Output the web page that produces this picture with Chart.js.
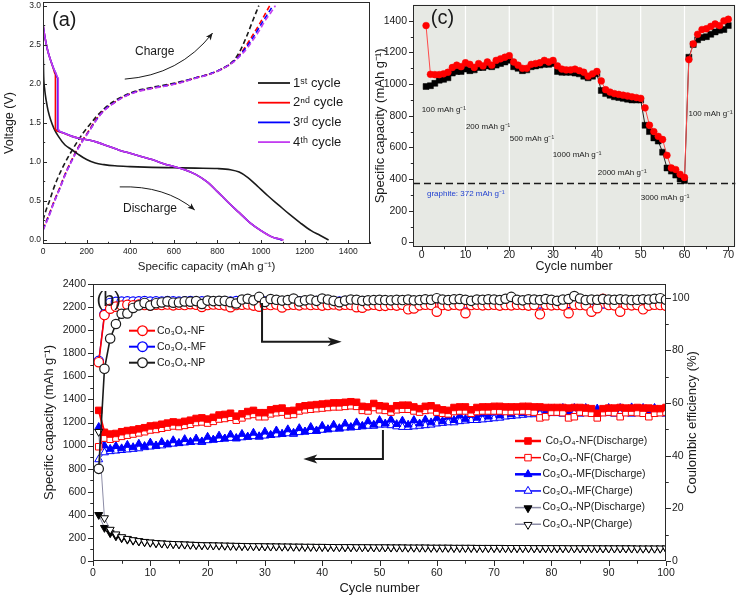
<!DOCTYPE html>
<html><head><meta charset="utf-8">
<script src="https://cdn.jsdelivr.net/npm/chart.js@4.4.1/dist/chart.umd.min.js"></script>
<style>
html,body{margin:0;padding:0;background:#fff;}
#wrap{position:relative;width:740px;height:597px;overflow:hidden;background:#fff;}
canvas{position:absolute;}
</style></head><body>
<div id="wrap">
<canvas id="ca" width="375" height="275" style="left:0;top:0;width:375px;height:275px"></canvas>
<canvas id="cc" width="370" height="275" style="left:370px;top:0;width:370px;height:275px"></canvas>
<canvas id="cb" width="740" height="322" style="left:0;top:275px;width:740px;height:322px"></canvas>
</div>
<script>
// ================= DATA: panel (a) voltage profiles =================
const a1DisX = [0, 3, 8, 15, 23, 35, 50, 70, 100, 130, 160, 200, 240, 280, 330, 400, 500, 600, 700, 800, 860, 900, 940, 980, 1030, 1080, 1130, 1180, 1230, 1270, 1310];
const a1DisV = [2.5, 2.1, 1.92, 1.78, 1.66, 1.54, 1.43, 1.33, 1.22, 1.16, 1.10, 1.03, 0.985, 0.965, 0.95, 0.94, 0.93, 0.925, 0.92, 0.915, 0.90, 0.87, 0.80, 0.70, 0.57, 0.45, 0.33, 0.22, 0.12, 0.06, 0.0];
const a2DisX = [0, 4, 12, 22, 35, 48, 57, 57, 62, 75, 92, 130, 170, 210, 250, 300, 350, 400, 450, 500, 550, 600, 650, 700, 750, 800, 850, 900, 950, 1000, 1050, 1080, 1100];
const a2DisV = [2.77, 2.68, 2.55, 2.42, 2.30, 2.19, 2.12, 1.42, 1.40, 1.385, 1.37, 1.33, 1.30, 1.28, 1.25, 1.20, 1.15, 1.11, 1.07, 1.03, 0.98, 0.94, 0.90, 0.84, 0.75, 0.62, 0.48, 0.35, 0.22, 0.12, 0.04, 0.015, 0.0];
const a3DisX = [0, 4, 12, 22, 35, 48, 60, 67, 67, 72, 80, 95, 130, 170, 210, 250, 300, 350, 400, 450, 500, 550, 600, 650, 700, 750, 800, 850, 900, 950, 1000, 1050, 1078, 1097];
const a3DisV = [2.77, 2.68, 2.55, 2.42, 2.30, 2.20, 2.12, 2.07, 1.42, 1.40, 1.385, 1.37, 1.33, 1.30, 1.28, 1.25, 1.20, 1.15, 1.11, 1.07, 1.03, 0.98, 0.94, 0.90, 0.84, 0.75, 0.62, 0.48, 0.35, 0.22, 0.12, 0.04, 0.015, 0.0];
const a4DisX = [0, 4, 12, 22, 35, 48, 60, 70, 70, 74, 82, 95, 130, 170, 210, 250, 300, 350, 400, 450, 500, 550, 600, 650, 700, 750, 800, 850, 900, 950, 1000, 1050, 1082, 1104];
const a4DisV = [2.77, 2.68, 2.55, 2.42, 2.30, 2.20, 2.13, 2.07, 1.42, 1.40, 1.385, 1.37, 1.33, 1.30, 1.28, 1.25, 1.20, 1.15, 1.11, 1.07, 1.03, 0.98, 0.94, 0.90, 0.84, 0.75, 0.62, 0.48, 0.35, 0.22, 0.12, 0.04, 0.015, 0.0];
const a1ChgX = [0, 15, 31, 45, 61, 80, 92, 115, 138, 160, 184, 215, 245, 280, 322, 360, 399, 440, 475, 520, 552, 620, 706, 760, 820, 872, 902, 933, 964, 990];
const a1ChgV = [0.256, 0.39, 0.51, 0.63, 0.75, 0.87, 0.94, 1.06, 1.17, 1.27, 1.37, 1.48, 1.58, 1.68, 1.77, 1.83, 1.88, 1.92, 1.94, 1.965, 1.98, 2.02, 2.08, 2.12, 2.19, 2.29, 2.41, 2.60, 2.82, 3.0];
const a2ChgX = [0, 15, 31, 45, 61, 80, 92, 115, 138, 160, 184, 215, 245, 280, 322, 360, 399, 440, 475, 520, 552, 620, 706, 760, 820, 872, 902, 948, 994, 1040];
const a2ChgV = [0.14, 0.24, 0.35, 0.455, 0.565, 0.69, 0.78, 0.93, 1.06, 1.18, 1.29, 1.42, 1.55, 1.66, 1.75, 1.82, 1.87, 1.91, 1.93, 1.955, 1.97, 2.01, 2.08, 2.12, 2.19, 2.28, 2.37, 2.56, 2.77, 3.0];
const a3ChgX = [0, 15, 31, 45, 61, 80, 92, 115, 138, 160, 184, 215, 245, 280, 322, 360, 399, 440, 475, 520, 552, 620, 706, 760, 820, 872, 902, 956, 1009, 1055];
const a3ChgV = [0.13, 0.23, 0.34, 0.445, 0.555, 0.68, 0.77, 0.92, 1.05, 1.17, 1.28, 1.41, 1.54, 1.66, 1.75, 1.82, 1.87, 1.91, 1.93, 1.955, 1.97, 2.01, 2.08, 2.12, 2.19, 2.28, 2.36, 2.56, 2.80, 3.0];
const a4ChgX = [0, 15, 31, 45, 61, 80, 92, 115, 138, 160, 184, 215, 245, 280, 322, 360, 399, 440, 475, 520, 552, 620, 706, 760, 820, 872, 902, 935, 963, 990, 1017, 1045, 1066];
const a4ChgV = [0.12, 0.22, 0.33, 0.44, 0.55, 0.675, 0.765, 0.915, 1.045, 1.165, 1.275, 1.405, 1.535, 1.655, 1.745, 1.815, 1.865, 1.905, 1.925, 1.95, 1.965, 2.005, 2.075, 2.115, 2.185, 2.275, 2.35, 2.45, 2.56, 2.67, 2.80, 2.91, 3.0];
const aLegend = ['1ˢᵗ cycle', '2ⁿᵈ cycle', '3ʳᵈ cycle', '4ᵗʰ cycle'];
const aXTicks = [0, 200, 400, 600, 800, 1000, 1200, 1400];
const aYTicks = [0, 0.5, 1, 1.5, 2, 2.5, 3];

// ================= DATA: panel (c) rate capability =================
const cCycles = [1,2,3,4,5,6,7,8,9,10,11,12,13,14,15,16,17,18,19,20,21,22,23,24,25,26,27,28,29,30,31,32,33,34,35,36,37,38,39,40,41,42,43,44,45,46,47,48,49,50,51,52,53,54,55,56,57,58,59,60,61,62,63,64,65,66,67,68,69,70];
const cRed = [1370,1062,1060,1060,1065,1075,1105,1120,1110,1135, 1125,1105,1130,1115,1140,1120,1150,1160,1170,1180, 1140,1120,1100,1100,1125,1130,1135,1150,1140,1150, 1115,1095,1090,1090,1095,1085,1075,1050,1065,1080, 1020,965,950,940,935,930,925,920,915,910, 850,740,700,670,650,550,470,460,430,410, 1155,1255,1315,1345,1350,1365,1380,1370,1400,1410];
const cBlack = [985,990,1005,1025,1030,1040,1070,1080,1080,1095, 1085,1090,1105,1105,1115,1110,1120,1130,1140,1150, 1110,1100,1085,1090,1110,1115,1120,1125,1125,1130, 1080,1075,1075,1075,1070,1065,1050,1040,1050,1065, 960,940,930,920,915,910,905,900,900,900, 740,700,660,640,570,470,450,425,400,390, 1170,1250,1280,1295,1300,1315,1330,1340,1345,1370];
const cGraphite = 372;
const cRateBreaks = [10, 20, 30, 40, 50, 60];
const cRateLabels = ['100 mAh g⁻¹', '200 mAh g⁻¹', '500 mAh g⁻¹', '1000 mAh g⁻¹', '2000 mAh g⁻¹', '3000 mAh g⁻¹', '100 mAh g⁻¹'];
const cXTicks = [0, 10, 20, 30, 40, 50, 60, 70];
const cYTicks = [0, 200, 400, 600, 800, 1000, 1200, 1400];

// ================= DATA: panel (b) cycling =================
const bCycles = [1,2,3,4,5,6,7,8,9,10,11,12,13,14,15,16,17,18,19,20,21,22,23,24,25,26,27,28,29,30,31,32,33,34,35,36,37,38,39,40,41,42,43,44,45,46,47,48,49,50,51,52,53,54,55,56,57,58,59,60,61,62,63,64,65,66,67,68,69,70,71,72,73,74,75,76,77,78,79,80,81,82,83,84,85,86,87,88,89,90,91,92,93,94,95,96,97,98,99,100];
const nfDis = [1305,1115,1100,1105,1120,1130,1135,1145,1155,1170, 1175,1185,1195,1205,1200,1210,1220,1235,1240,1230, 1245,1265,1270,1280,1255,1275,1295,1305,1285,1285, 1310,1320,1325,1300,1305,1335,1345,1350,1355,1360, 1365,1370,1370,1375,1380,1375,1340,1335,1365,1345, 1340,1320,1345,1350,1350,1335,1320,1340,1345,1325, 1310,1305,1330,1335,1335,1310,1330,1335,1335,1340, 1340,1335,1335,1335,1340,1340,1335,1335,1330,1330, 1330,1330,1325,1330,1330,1325,1320,1280,1320,1325, 1325,1330,1325,1325,1330,1325,1325,1320,1320,1330];
const nfChg = [990,1065,1055,1065,1080,1090,1100,1110,1120,1135, 1140,1150,1160,1170,1165,1175,1185,1200,1205,1195, 1210,1230,1235,1245,1220,1240,1260,1270,1250,1250, 1275,1285,1290,1265,1270,1300,1310,1315,1320,1325, 1330,1335,1335,1340,1345,1340,1305,1300,1330,1310, 1305,1290,1310,1315,1315,1300,1290,1305,1310,1290, 1280,1275,1295,1300,1300,1280,1295,1300,1300,1300, 1300,1295,1295,1300,1300,1295,1290,1240,1250,1290, 1290,1285,1240,1250,1290,1285,1280,1240,1285,1290, 1285,1250,1285,1290,1285,1280,1250,1280,1285,1290];
const mfDis = [1160,1000,970,995,975,1005,985,1015,995,1025, 1000,1030,1010,1045,1020,1055,1030,1060,1035,1075, 1050,1085,1060,1095,1065,1100,1075,1110,1080,1120, 1090,1130,1100,1140,1110,1150,1120,1160,1130,1170, 1140,1180,1150,1190,1160,1200,1170,1210,1180,1220, 1190,1225,1185,1215,1180,1220,1190,1225,1200,1240, 1210,1250,1220,1260,1230,1265,1240,1275,1250,1285, 1260,1295,1270,1305,1280,1315,1285,1320,1290,1320, 1290,1325,1290,1325,1295,1325,1290,1320,1290,1325, 1295,1325,1295,1330,1295,1325,1290,1325,1295,1320];
const mfChg = [880,940,950,955,960,965,970,975,985,990, 995,1000,1010,1015,1020,1025,1030,1035,1030,1045, 1050,1055,1060,1065,1060,1070,1075,1080,1075,1085, 1090,1095,1100,1105,1100,1115,1120,1125,1125,1135, 1140,1145,1145,1155,1155,1160,1165,1170,1170,1180, 1180,1175,1165,1160,1160,1165,1170,1175,1180,1190, 1195,1200,1200,1210,1215,1220,1220,1225,1230,1235, 1240,1250,1255,1260,1265,1270,1270,1275,1275,1280, 1280,1275,1280,1280,1275,1280,1280,1275,1280,1280, 1275,1280,1280,1275,1280,1280,1275,1280,1280,1275];
const npDis = [400,288,242,215,198,186,177,170,164,159, 155,152,149,147,145,143,141,139,137,136, 135,134,133,132,131,130,129,128,128,127, 126,126,125,125,124,124,123,123,122,122, 121,121,120,120,120,119,119,119,118,118, 118,117,117,117,116,116,116,116,115,115, 115,115,114,114,114,114,113,113,113,113, 113,112,112,112,112,112,111,111,111,111, 111,111,110,110,110,110,110,110,109,109, 109,109,109,109,108,108,108,108,108,108];
const npChg = [1120,372,272,232,208,193,182,174,167,162, 157,154,151,149,147,145,143,141,139,138, 137,136,135,134,133,132,131,130,130,129, 128,128,127,127,126,126,125,125,124,124, 123,123,122,122,122,121,121,121,120,120, 120,119,119,119,118,118,118,118,117,117, 117,117,116,116,116,116,115,115,115,115, 115,114,114,114,114,114,113,113,113,113, 113,113,112,112,112,112,112,112,111,111, 111,111,111,111,110,110,110,110,110,110];
const nfCE = [75.5,93.4,95.8,96.6,97.0,97.3,97.1,97.4,97.2,97.0, 97.3,97.2,97.4,97.1,97.3,97.2,97.5,97.3,96.5,97.2, 97.4,97.3,97.1,96.4,97.2,97.3,97.4,97.0,96.6,97.3, 97.2,97.4,96.3,97.2,97.3,97.1,97.4,97.2,97.3,97.0, 97.2,97.4,97.1,97.3,97.2,96.4,96.2,97.1,97.3,96.9, 96.9,97.2,97.0,97.3,95.6,95.9,97.1,97.3,97.2,94.7, 97.2,97.0,97.3,97.1,94.1,97.2,97.3,97.1,97.2,97.3, 97.0,97.2,97.1,97.3,97.2,97.0,97.2,93.7,97.3,97.1, 97.2,97.0,94.1,97.3,97.2,97.1,94.7,96.0,99.6,97.2, 97.1,94.7,97.3,97.1,97.2,95.6,97.0,97.3,97.2,96.9];
const mfCE = [76.0,93.7,98.0,98.4,98.5,98.6,98.5,98.6,98.7,98.5, 98.6,98.5,98.7,98.6,98.5,98.6,98.7,98.5,98.6,98.7, 98.5,98.6,98.6,98.5,98.7,98.6,98.5,98.6,98.7,98.5, 98.6,98.5,98.6,98.7,98.5,98.6,98.6,98.5,98.7,98.6, 98.5,98.6,98.5,98.7,98.6,98.5,98.6,98.4,98.3,98.2, 98.0,97.9,98.0,97.8,97.9,98.0,97.8,97.9,97.8,98.0, 97.9,97.8,98.0,97.9,97.8,97.9,98.0,97.8,97.9,97.8, 98.0,97.9,97.8,97.9,98.0,97.8,97.9,97.8,98.0,97.9, 97.8,97.9,98.0,97.8,97.9,97.8,98.0,97.9,97.8,97.9, 98.0,97.8,97.9,97.8,97.9,98.0,97.8,97.9,97.8,97.9];
const npCE = [35.0,73.0,84.5,90.0,93.9,94.0,96.1,97.1,98.0,97.0, 97.9,98.2,98.6,98.1,98.2,98.6,98.5,98.7,97.6,98.9, 98.7,98.8,98.8,98.3,97.8,99.3,99.6,99.0,100.3,98.4, 99.5,99.2,98.9,99.1,99.7,98.6,99.0,99.3,98.8,99.7, 99.3,98.8,98.3,98.9,99.3,99.2,98.8,99.0,99.1,99.2, 99.1,99.0,99.2,99.1,99.3,99.0,99.1,99.4,99.2,99.8, 99.3,99.1,99.4,99.5,99.2,98.8,99.3,99.2,99.4,99.3, 99.1,99.6,100.3,99.2,99.0,99.4,99.3,99.1,99.5,99.2, 98.8,99.3,99.5,100.6,99.7,99.1,99.3,99.2,99.5,99.3, 99.2,99.4,99.3,99.1,99.2,99.4,99.3,99.6,99.8,99.2];
const bCapLegend = [' Co₃O₄-NF(Discharge)', 'Co₃O₄-NF(Charge)', 'Co₃O₄-MF(Discharge)', 'Co₃O₄-MF(Charge)', 'Co₃O₄-NP(Discharge)', 'Co₃O₄-NP(Charge)'];
const bCELegend = ['Co₃O₄-NF', 'Co₃O₄-MF', 'Co₃O₄-NP'];
const bXTicks = [0, 10, 20, 30, 40, 50, 60, 70, 80, 90, 100];
const bYTicks = [0, 200, 400, 600, 800, 1000, 1200, 1400, 1600, 1800, 2000, 2200, 2400];
const bY1Ticks = [0, 20, 40, 60, 80, 100];

// ================= helpers =================
const FONT = '"Liberation Sans", Arial, Helvetica, sans-serif';
Chart.defaults.font.family = FONT;
Chart.defaults.color = '#1a1a1a';
Chart.defaults.animation = false;
const RED = '#ff0000', BLUE = '#0000ff', MAG = '#c23cf0', INK = '#1a1a1a';

function xy(xs, ys) { return xs.map((x, i) => ({x: x, y: ys[i]})); }
function mids(arr) { const o = []; for (let i = 0; i < arr.length - 1; i++) o.push((arr[i] + arr[i + 1]) / 2); return o; }
function fixW(w) { return a => { a.width = w; a.paddingTop = 0; a.paddingBottom = 0; a.paddingLeft = 0; a.paddingRight = 0; }; }
function fixH(h) { return a => { a.height = h; a.paddingTop = 0; a.paddingBottom = 0; a.paddingLeft = 0; a.paddingRight = 0; }; }
function useTicks(vals) { return a => { a.ticks = vals.map(v => ({value: v})); }; }
const NOGRID = {display: false, drawTicks: false, tickLength: 0};

function frameAndTicks(chart, specs) {
  const ctx = chart.ctx, a = chart.chartArea;
  ctx.save();
  ctx.strokeStyle = '#2a2a2a'; ctx.lineWidth = 1;
  ctx.strokeRect(Math.round(a.left) + 0.5, Math.round(a.top) + 0.5, Math.round(a.right - a.left) - 1, Math.round(a.bottom - a.top) - 1);
  ctx.beginPath();
  specs.forEach(sp => {
    const s = chart.scales[sp.id];
    const draw = (v, len) => {
      const p = Math.round(s.getPixelForValue(v)) + 0.5;
      if (sp.edge === 'bottom') { ctx.moveTo(p, a.bottom); ctx.lineTo(p, a.bottom + sp.dir * len); }
      else if (sp.edge === 'left') { ctx.moveTo(a.left, p); ctx.lineTo(a.left - sp.dir * len, p); }
      else if (sp.edge === 'right') { ctx.moveTo(a.right, p); ctx.lineTo(a.right + sp.dir * len, p); }
    };
    sp.major.forEach(v => draw(v, sp.len));
    sp.minor.forEach(v => draw(v, sp.len * 0.55));
  });
  ctx.stroke();
  ctx.restore();
}

function drawMarker(ctx, style, x, y, r, fill, stroke, lw, rot) {
  ctx.save();
  ctx.beginPath();
  if (style === 'circle') ctx.arc(x, y, r, 0, Math.PI * 2);
  else if (style === 'rect') { const s = r * Math.SQRT1_2; ctx.rect(x - s, y - s, 2 * s, 2 * s); }
  else {
    let rad = (rot || 0) * Math.PI / 180;
    ctx.moveTo(x + Math.sin(rad) * r, y - Math.cos(rad) * r);
    rad += 2 * Math.PI / 3; ctx.lineTo(x + Math.sin(rad) * r, y - Math.cos(rad) * r);
    rad += 2 * Math.PI / 3; ctx.lineTo(x + Math.sin(rad) * r, y - Math.cos(rad) * r);
    ctx.closePath();
  }
  if (fill) { ctx.fillStyle = fill; ctx.fill(); }
  if (stroke) { ctx.strokeStyle = stroke; ctx.lineWidth = lw; ctx.stroke(); }
  ctx.restore();
}

function arrowHead(ctx, x, y, ang, len, half) {
  ctx.save();
  ctx.translate(x, y); ctx.rotate(ang);
  ctx.beginPath();
  ctx.moveTo(0, 0); ctx.lineTo(-len, -half); ctx.lineTo(-len * 0.75, 0); ctx.lineTo(-len, half); ctx.closePath();
  ctx.fill();
  ctx.restore();
}

function text(ctx, s, x, y, size, color, align, base, rot) {
  ctx.save();
  ctx.font = size + 'px ' + FONT;
  ctx.fillStyle = color || INK;
  ctx.textAlign = align || 'left';
  ctx.textBaseline = base || 'middle';
  ctx.translate(x, y);
  if (rot) ctx.rotate(rot);
  ctx.fillText(s, 0, 0);
  ctx.restore();
}

// ================= PANEL (a) =================
function lineDS(xs, ys, color, dashed) {
  return {data: xy(xs, ys), showLine: true, borderColor: color, borderWidth: 1.6, pointRadius: 0,
    borderDash: dashed ? [5, 3] : [], cubicInterpolationMode: 'monotone', fill: false};
}
const panelA = {
  id: 'panelA',
  afterDatasetsDraw(chart) {
    const ctx = chart.ctx, xs = chart.scales.x, ys = chart.scales.y, a = chart.chartArea;
    frameAndTicks(chart, [
      {id: 'x', edge: 'bottom', dir: -1, len: 4, major: aXTicks, minor: mids(aXTicks.concat([1600]))},
      {id: 'y', edge: 'left', dir: -1, len: 4, major: aYTicks, minor: mids(aYTicks)}
    ]);
    text(ctx, '(a)', a.left + 9, a.top + 18, 20, INK, 'left', 'middle');
    const cols = [INK, RED, BLUE, MAG];
    for (let i = 0; i < 4; i++) {
      const yy = 83 + i * 19.7;
      ctx.save(); ctx.strokeStyle = cols[i]; ctx.lineWidth = 1.8;
      ctx.beginPath(); ctx.moveTo(258, yy); ctx.lineTo(290, yy); ctx.stroke(); ctx.restore();
      text(ctx, aLegend[i], 293, yy, 13, INK, 'left', 'middle');
    }
    text(ctx, 'Charge', 135, 52, 12, INK, 'left', 'middle');
    text(ctx, 'Discharge', 123, 209, 12, INK, 'left', 'middle');
    ctx.save(); ctx.strokeStyle = INK; ctx.fillStyle = INK; ctx.lineWidth = 1;
    const P = (x, v) => [xs.getPixelForValue(x), ys.getPixelForValue(v)];
    let p0 = P(375, 2.06), p1 = P(627, 2.11), p2 = P(778, 2.65);
    ctx.beginPath(); ctx.moveTo(p0[0], p0[1]); ctx.quadraticCurveTo(p1[0], p1[1], p2[0], p2[1]); ctx.stroke();
    arrowHead(ctx, p2[0], p2[1], Math.atan2(p2[1] - p1[1], p2[0] - p1[0]), 7, 3);
    p0 = P(352, 0.68); p1 = P(560, 0.70); p2 = P(696, 0.385);
    ctx.beginPath(); ctx.moveTo(p0[0], p0[1]); ctx.quadraticCurveTo(p1[0], p1[1], p2[0], p2[1]); ctx.stroke();
    arrowHead(ctx, p2[0], p2[1], Math.atan2(p2[1] - p1[1], p2[0] - p1[0]), 7, 3);
    ctx.restore();
  }
};
new Chart(document.getElementById('ca'), {
  type: 'scatter',
  data: {datasets: [
    lineDS(a1ChgX, a1ChgV, INK, true), lineDS(a2ChgX, a2ChgV, RED, true), lineDS(a3ChgX, a3ChgV, BLUE, true), lineDS(a4ChgX, a4ChgV, MAG, true),
    lineDS(a1DisX, a1DisV, INK, false), lineDS(a2DisX, a2DisV, RED, false), lineDS(a3DisX, a3DisV, BLUE, false), lineDS(a4DisX, a4DisV, MAG, false)
  ].map((d, i) => Object.assign(d, {order: 10 - i}))},
  options: {
    responsive: false, animation: false,
    layout: {padding: {left: 0, top: 2, right: 5, bottom: 0}},
    plugins: {legend: {display: false}, tooltip: {enabled: false}},
    scales: {
      x: {type: 'linear', position: 'bottom', min: 0, max: 1500, grid: NOGRID, border: {display: false},
        afterBuildTicks: useTicks(aXTicks), afterFit: fixH(31),
        ticks: {font: {size: 8.5}, padding: 3, maxRotation: 0, callback: v => String(v)},
        title: {display: true, text: 'Specific capacity (mAh g⁻¹)', font: {size: 11.5}, padding: {top: 0, bottom: 1}}},
      y: {type: 'linear', position: 'left', min: -0.051, max: 3.047, grid: NOGRID, border: {display: false},
        afterBuildTicks: useTicks(aYTicks), afterFit: fixW(43),
        ticks: {font: {size: 8.5}, padding: 2, callback: v => Number(v).toFixed(1)},
        title: {display: true, text: 'Voltage (V)', font: {size: 12.5}, padding: {top: 2.5, bottom: 0}}}
    }
  },
  plugins: [panelA]
});

// ================= PANEL (c) =================
const panelC = {
  id: 'panelC',
  beforeDatasetsDraw(chart) {
    const ctx = chart.ctx, a = chart.chartArea, xs = chart.scales.x, ys = chart.scales.y;
    ctx.save();
    ctx.fillStyle = '#e7e9e4';
    ctx.fillRect(a.left, a.top, a.right - a.left, a.bottom - a.top);
    ctx.strokeStyle = '#ffffff'; ctx.lineWidth = 1.2;
    ctx.beginPath();
    cRateBreaks.forEach(c => { const p = xs.getPixelForValue(c); ctx.moveTo(p, a.top); ctx.lineTo(p, a.bottom); });
    ctx.stroke();
    ctx.strokeStyle = INK; ctx.lineWidth = 1.6; ctx.setLineDash([7, 4]);
    const gy = ys.getPixelForValue(cGraphite);
    ctx.beginPath(); ctx.moveTo(a.left, gy); ctx.lineTo(a.right, gy); ctx.stroke();
    ctx.restore();
  },
  afterDatasetsDraw(chart) {
    const ctx = chart.ctx, a = chart.chartArea, xs = chart.scales.x, ys = chart.scales.y;
    frameAndTicks(chart, [
      {id: 'x', edge: 'bottom', dir: 1, len: 4, major: cXTicks, minor: mids(cXTicks)},
      {id: 'y', edge: 'left', dir: 1, len: 4, major: cYTicks, minor: mids(cYTicks)}
    ]);
    text(ctx, '(c)', xs.getPixelForValue(2.1), ys.getPixelForValue(1415), 20, INK, 'left', 'middle');
    const pos = [[0, 839], [10.1, 733], [20.1, 652], [29.9, 552], [40.2, 439], [50, 283], [60.9, 814]];
    cRateLabels.forEach((s, i) => text(ctx, s, xs.getPixelForValue(pos[i][0]), ys.getPixelForValue(pos[i][1]), 8, INK, 'left', 'middle'));
    text(ctx, 'graphite: ' + cGraphite + ' mAh g⁻¹', xs.getPixelForValue(1.2), ys.getPixelForValue(308), 8, '#1f3fd0', 'left', 'middle');
  }
};
new Chart(document.getElementById('cc'), {
  type: 'line',
  data: {datasets: [
    {data: xy(cCycles, cRed), borderColor: '#ff4a4a', borderWidth: 1, pointStyle: 'circle', pointRadius: 3.4,
      pointBackgroundColor: RED, pointBorderColor: RED, pointBorderWidth: 0.5, order: 0},
    {data: xy(cCycles, cBlack), borderColor: '#222', borderWidth: 1, pointStyle: 'rect', pointRadius: 4.2,
      pointBackgroundColor: '#000', pointBorderColor: '#000', pointBorderWidth: 0.5, order: 1}
  ]},
  options: {
    responsive: false, animation: false,
    layout: {padding: {left: 0, top: 2, right: 4, bottom: 0}},
    plugins: {legend: {display: false}, tooltip: {enabled: false}},
    scales: {
      x: {type: 'linear', position: 'bottom', min: -1.98, max: 71.6, grid: NOGRID, border: {display: false},
        afterBuildTicks: useTicks(cXTicks), afterFit: fixH(28),
        ticks: {font: {size: 10.5}, padding: 1.5, maxRotation: 0, callback: v => String(v)},
        title: {display: true, text: 'Cycle number', font: {size: 12.5}, padding: {top: 0, bottom: 1}}},
      y: {type: 'linear', position: 'left', min: -29.4, max: 1502, grid: NOGRID, border: {display: false},
        afterBuildTicks: useTicks(cYTicks), afterFit: fixW(43),
        ticks: {font: {size: 10.5}, padding: 6, callback: v => String(v)},
        title: {display: true, text: 'Specific capacity (mAh g⁻¹)', font: {size: 13}, padding: {top: 3, bottom: 0}}}
    }
  },
  plugins: [panelC]
});

// ================= PANEL (b) =================
const bStyles = [
  {c: RED, lw: 2, ps: 'rect', r: 4.6, fill: RED, stroke: RED, rot: 0},
  {c: RED, lw: 1, ps: 'rect', r: 4.6, fill: '#fff', stroke: RED, rot: 0},
  {c: BLUE, lw: 2, ps: 'triangle', r: 4.6, fill: BLUE, stroke: BLUE, rot: 0},
  {c: BLUE, lw: 1, ps: 'triangle', r: 4.6, fill: '#fff', stroke: BLUE, rot: 0},
  {c: '#8c8ca6', lw: 1, ps: 'triangle', r: 4.6, fill: '#000', stroke: '#000', rot: 180},
  {c: '#8c8ca6', lw: 1, ps: 'triangle', r: 4.6, fill: '#fff', stroke: '#000', rot: 180}
];
const bCEStyles = [{c: RED, lw: 1.6}, {c: BLUE, lw: 1.2}, {c: INK, lw: 1.6}];
const panelB = {
  id: 'panelB',
  afterDatasetsDraw(chart) {
    const ctx = chart.ctx, a = chart.chartArea, xs = chart.scales.x, ys = chart.scales.y;
    frameAndTicks(chart, [
      {id: 'x', edge: 'bottom', dir: 1, len: 5, major: bXTicks, minor: mids(bXTicks)},
      {id: 'y', edge: 'left', dir: 1, len: 5, major: bYTicks, minor: mids(bYTicks)},
      {id: 'y1', edge: 'right', dir: 1, len: 5, major: bY1Ticks, minor: mids(bY1Ticks)}
    ]);
    text(ctx, '(b)', a.left + 3.5, a.top + 16, 20, INK, 'left', 'middle');
    text(ctx, 'Coulombic efficiency (%)', 692.5, (a.top + a.bottom) / 2, 13, INK, 'center', 'middle', -Math.PI / 2);
    for (let i = 0; i < 3; i++) {
      const yy = 55.7 + i * 16;
      ctx.save(); ctx.strokeStyle = bCEStyles[i].c; ctx.lineWidth = 2;
      ctx.beginPath(); ctx.moveTo(129, yy); ctx.lineTo(155, yy); ctx.stroke(); ctx.restore();
      drawMarker(ctx, 'circle', 142.5, yy, 4.8, '#fff', bCEStyles[i].c, 1.3, 0);
      text(ctx, bCELegend[i], 157, yy, 10.5, INK, 'left', 'middle');
    }
    for (let i = 0; i < 6; i++) {
      const yy = 166 + i * 16.65, st = bStyles[i];
      ctx.save(); ctx.strokeStyle = st.c; ctx.lineWidth = st.lw + 0.5;
      ctx.beginPath(); ctx.moveTo(515, yy); ctx.lineTo(541, yy); ctx.stroke(); ctx.restore();
      drawMarker(ctx, st.ps, 528, yy + (st.rot ? 0.5 : 0), 4.6, st.fill, st.stroke, 1, st.rot);
      text(ctx, bCapLegend[i], 542.5, yy, 10.5, INK, 'left', 'middle');
    }
    ctx.save(); ctx.strokeStyle = INK; ctx.fillStyle = INK; ctx.lineWidth = 2;
    let x0 = xs.getPixelForValue(29.5), yA = ys.getPixelForValue(2235), yB = ys.getPixelForValue(1900), x1 = xs.getPixelForValue(43.4);
    ctx.beginPath(); ctx.moveTo(x0, yA); ctx.lineTo(x0, yB); ctx.lineTo(x1 - 8, yB); ctx.stroke();
    arrowHead(ctx, x1, yB, 0, 14, 4.5);
    x0 = xs.getPixelForValue(50.6); yA = ys.getPixelForValue(1136); yB = ys.getPixelForValue(883); x1 = xs.getPixelForValue(36.7);
    ctx.beginPath(); ctx.moveTo(x0, yA); ctx.lineTo(x0, yB); ctx.lineTo(x1 + 8, yB); ctx.stroke();
    arrowHead(ctx, x1, yB, Math.PI, 14, 4.5);
    ctx.restore();
  }
};
function capDS(vals, st, order) {
  return {data: xy(bCycles, vals), yAxisID: 'y', borderColor: st.c, borderWidth: st.lw, pointStyle: st.ps,
    pointRadius: st.r, pointRotation: st.rot, pointBackgroundColor: st.fill, pointBorderColor: st.stroke,
    pointBorderWidth: 1, order: order};
}
function ceDS(vals, st, order) {
  return {data: xy(bCycles, vals), yAxisID: 'y1', borderColor: st.c, borderWidth: st.lw, pointStyle: 'circle',
    pointRadius: 4.7, pointBackgroundColor: '#fff', pointBorderColor: st.c, pointBorderWidth: 1.2, order: order};
}
new Chart(document.getElementById('cb'), {
  type: 'line',
  data: {datasets: [
    ceDS(npCE, bCEStyles[2], 0), ceDS(nfCE, bCEStyles[0], 1), ceDS(mfCE, bCEStyles[1], 2),
    capDS(npChg, bStyles[5], 3), capDS(npDis, bStyles[4], 4),
    capDS(nfDis, bStyles[0], 5), capDS(nfChg, bStyles[1], 6),
    capDS(mfDis, bStyles[2], 7), capDS(mfChg, bStyles[3], 8)
  ]},
  options: {
    responsive: false, animation: false,
    layout: {padding: {left: 0, top: 9, right: 0, bottom: 0}},
    plugins: {legend: {display: false}, tooltip: {enabled: false}},
    scales: {
      x: {type: 'linear', position: 'bottom', min: 0, max: 100, grid: NOGRID, border: {display: false},
        afterBuildTicks: useTicks(bXTicks), afterFit: fixH(36),
        ticks: {font: {size: 10.5}, padding: 5.5, maxRotation: 0, callback: v => String(v)},
        title: {display: true, text: 'Cycle number', font: {size: 13}, padding: {top: 0, bottom: 1}}},
      y: {type: 'linear', position: 'left', min: 0, max: 2400, grid: NOGRID, border: {display: false},
        afterBuildTicks: useTicks(bYTicks), afterFit: fixW(93),
        ticks: {font: {size: 10.5}, padding: 7, callback: v => String(v)},
        title: {display: true, text: 'Specific capacity (mAh g⁻¹)', font: {size: 13}, padding: {top: 42, bottom: 0}}},
      y1: {type: 'linear', position: 'right', min: 0, max: 105.2, grid: NOGRID, border: {display: false},
        afterBuildTicks: useTicks(bY1Ticks), afterFit: fixW(74),
        ticks: {font: {size: 10.5}, padding: 6, callback: v => String(v)}}
    }
  },
  plugins: [panelB]
});
</script>
</body></html>
